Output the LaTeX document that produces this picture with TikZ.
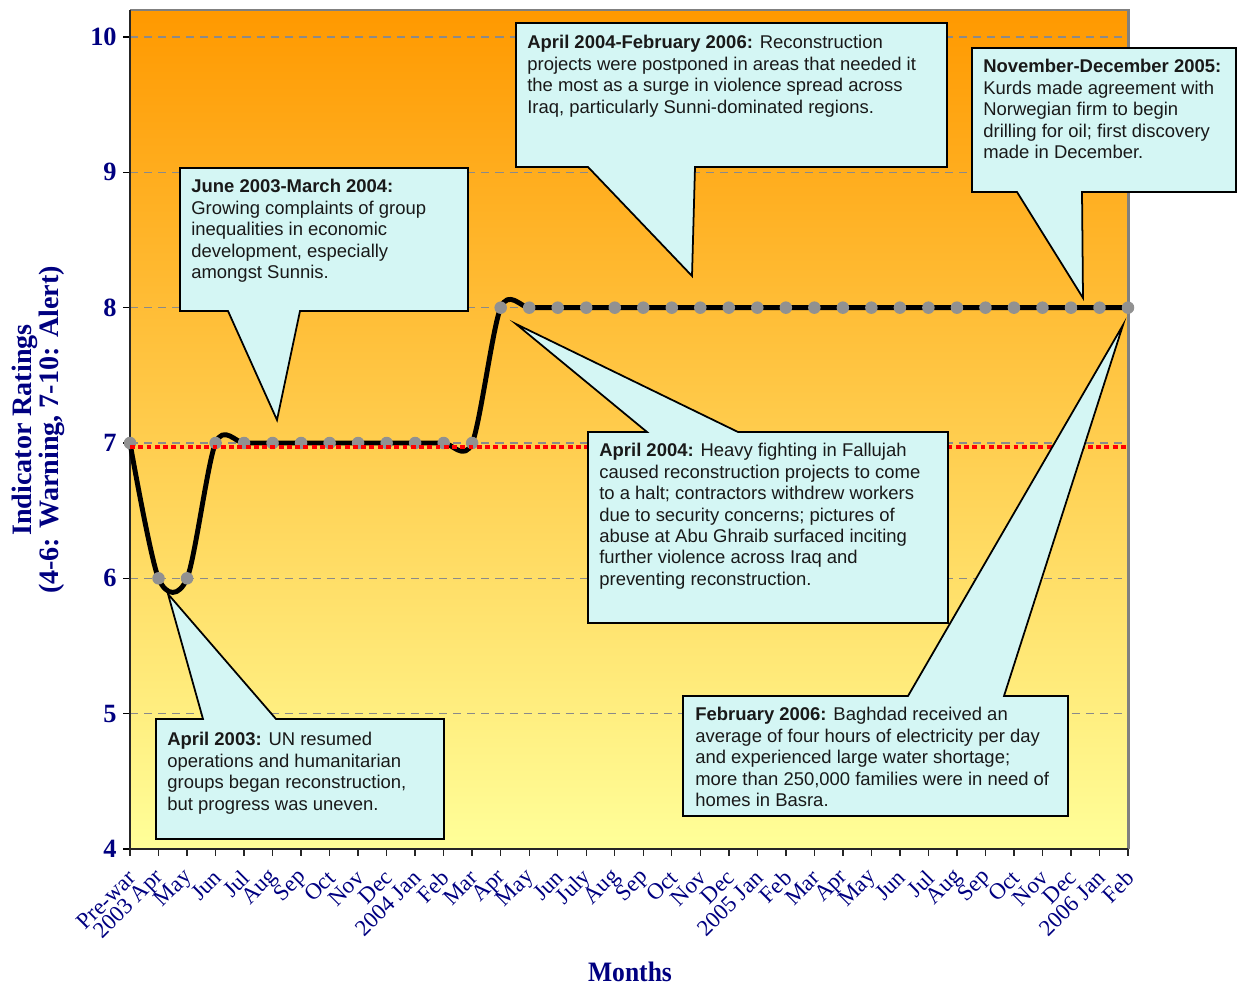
\documentclass[tikz,border=0pt]{standalone}
\usepackage{fontspec}
\setmainfont{Liberation Serif}
\newfontfamily\calloutfont{Liberation Sans}
\usetikzlibrary{calc}
\definecolor{axisnavy}{RGB}{0,0,128}
\definecolor{plottop}{RGB}{255,153,0}
\definecolor{plotbottom}{RGB}{255,255,153}
\definecolor{calloutfill}{RGB}{212,246,244}
\definecolor{markgray}{RGB}{145,145,145}
\definecolor{gridgray}{RGB}{138,138,138}
\definecolor{framegray}{RGB}{128,128,128}

\begin{document}
\begin{tikzpicture}[x=0.02cm,y=0.02cm,
  gridline/.style={gridgray, line width=0.6pt, dash pattern=on 4.6pt off 3.4pt},
  alertline/.style={red, line width=2.8pt, dash pattern=on 2.8pt off 1.9pt},
  dataline/.style={black, line width=2.8pt, line join=round, line cap=round},
  marker/.style={circle, fill=markgray, inner sep=0pt, minimum width=0.23cm, minimum height=0.25cm},
  ytick/.style={anchor=east, inner sep=0pt, text=axisnavy, font=\fontsize{15}{15}\selectfont\bfseries},
  xtick/.style={anchor=east, rotate=45, inner sep=0pt, text=axisnavy, font=\fontsize{13}{13}\selectfont},
  axistitle/.style={text=axisnavy, align=center, font=\fontsize{16}{15.5}\selectfont\bfseries},
  callout/.style={fill=calloutfill, draw=black, line width=1pt, line join=miter},
  callouttext/.style={anchor=north west, inner sep=0pt, align=left, text=black!90,
    font=\calloutfont\fontsize{10.5}{12.2}\selectfont}]

\useasboundingbox (0,0) rectangle (1237,-986);

% plot area with orange-to-yellow gradient
\shade[top color=plottop, bottom color=plotbottom] (130,-10) rectangle (1128,-849);

% horizontal grid lines and y ticks
\foreach \v in {5,...,10} {
  \draw[gridline] (130,{-(849-(\v-4)*812/6)}) -- (1128,{-(849-(\v-4)*812/6)});
}
\foreach \v in {4,...,10} {
  \draw[black, line width=0.8pt] (123,{-(849-(\v-4)*812/6)}) -- (130,{-(849-(\v-4)*812/6)});
  \node[ytick] (yl\v) at (117,{-(849-(\v-4)*812/6)}) {\v};
}

% frame: grey top and right, dark axes left and bottom
\draw[framegray, line width=1.7pt] (130,-10) -- (1128,-10) -- (1128,-849);
\draw[black!85, line width=0.9pt] (130,-10) -- (130,-849) -- (1128,-849);

% data points
\foreach \v [count=\i from 0] in {7,6,6,7,7,7,7,7,7,7,7,7,7,8,8,8,8,8,8,8,8,8,8,8,8,8,8,8,8,8,8,8,8,8,8,8} {
  \coordinate (p\i) at ({130+998/35*\i},{-(849-(\v-4)*812/6)});
}

% x ticks and month labels
\foreach \lab [count=\i from 0] in {Pre-war,2003 Apr,May,Jun,Jul,Aug,Sep,Oct,Nov,Dec,2004 Jan,Feb,Mar,Apr,May,Jun,July,Aug,Sep,Oct,Nov,Dec,2005 Jan,Feb,Mar,Apr,May,Jun,Jul,Aug,Sep,Oct,Nov,Dec,2006 Jan,Feb} {
  \draw[black!85, line width=0.8pt] ({130+998/35*\i},-849) -- ({130+998/35*\i},-856);
  \node[xtick] (xl\i) at ({130+998/35*\i+2},-874) {\lab};
}

% indicator curve
\draw[dataline] plot[smooth, tension=0.5] coordinates {(p0) (p1) (p2) (p3) (p4) (p5) (p6) (p7) (p8) (p9) (p10) (p11) (p12) (p13) (p14) (p15) (p16) (p17) (p18) (p19) (p20) (p21) (p22) (p23) (p24) (p25) (p26) (p27) (p28) (p29) (p30) (p31) (p32) (p33) (p34) (p35)};
\foreach \i in {0,...,35} {
  \node[marker] (m\i) at (p\i) {};
}

% alert threshold
\draw[alertline] (130,-447) -- (1128,-447);

% axis titles
\node[axistitle, rotate=90] (ytitle) at (38,-430) {Indicator Ratings\\(4-6: Warning, 7-10: Alert)};
\node[axistitle] (xtitle) at (630,-972) {\scalebox{0.91}[1]{Months}};

% callout tips
\coordinate (tipA) at (277,-420);
\coordinate (tipB) at (692,-276);
\coordinate (tipC) at (1083,-298);
\coordinate (tipD) at (516,-324);
\coordinate (tipE) at (1123,-325);
\coordinate (tipF) at (168,-594);

% callout balloons
\draw[callout] (180,-168) -- (468,-168) -- (468,-311) -- (300,-311) -- (tipA) -- (228,-311) -- (180,-311) -- cycle;
\draw[callout] (516,-23) -- (947,-23) -- (947,-167) -- (695,-167) -- (tipB) -- (588,-167) -- (516,-167) -- cycle;
\draw[callout] (972,-48) -- (1236,-48) -- (1236,-192) -- (1082,-192) -- (tipC) -- (1017,-192) -- (972,-192) -- cycle;
\draw[callout] (588,-432) -- (647,-432) -- (tipD) -- (738,-432) -- (948,-432) -- (948,-623) -- (588,-623) -- cycle;
\draw[callout] (683,-696) -- (908,-696) -- (tipE) -- (1004,-696) -- (1068,-696) -- (1068,-816) -- (683,-816) -- cycle;
\draw[callout] (156,-719) -- (203,-719) -- (tipF) -- (276,-719) -- (444,-719) -- (444,-839) -- (156,-839) -- cycle;

% callout texts
\node[callouttext] (tA) at (191,-179) {\textbf{June 2003-March 2004:}\\Growing complaints of group\\inequalities in economic\\development, especially\\amongst Sunnis.};
\node[callouttext] (tB) at (527,-35) {\textbf{April 2004-February 2006:} Reconstruction\\projects were postponed in areas that needed it\\the most as a surge in violence spread across\\Iraq, particularly Sunni-dominated regions.};
\node[callouttext] (tC) at (983,-59) {\textbf{November-December 2005:}\\Kurds made agreement with\\Norwegian firm to begin\\drilling for oil; first discovery\\made in December.};
\node[callouttext] (tD) at (599,-443) {\textbf{April 2004:} Heavy fighting in Fallujah\\caused reconstruction projects to come\\to a halt; contractors withdrew workers\\due to security concerns; pictures of\\abuse at Abu Ghraib surfaced inciting\\further violence across Iraq and\\preventing reconstruction.};
\node[callouttext] (tE) at (695,-707) {\textbf{February 2006:} Baghdad received an\\average of four hours of electricity per day\\and experienced large water shortage;\\more than 250,000 families were in need of\\homes in Basra.};
\node[callouttext] (tF) at (167,-732) {\textbf{April 2003:} UN resumed\\operations and humanitarian\\groups began reconstruction,\\but progress was uneven.};

\end{tikzpicture}
\end{document}
